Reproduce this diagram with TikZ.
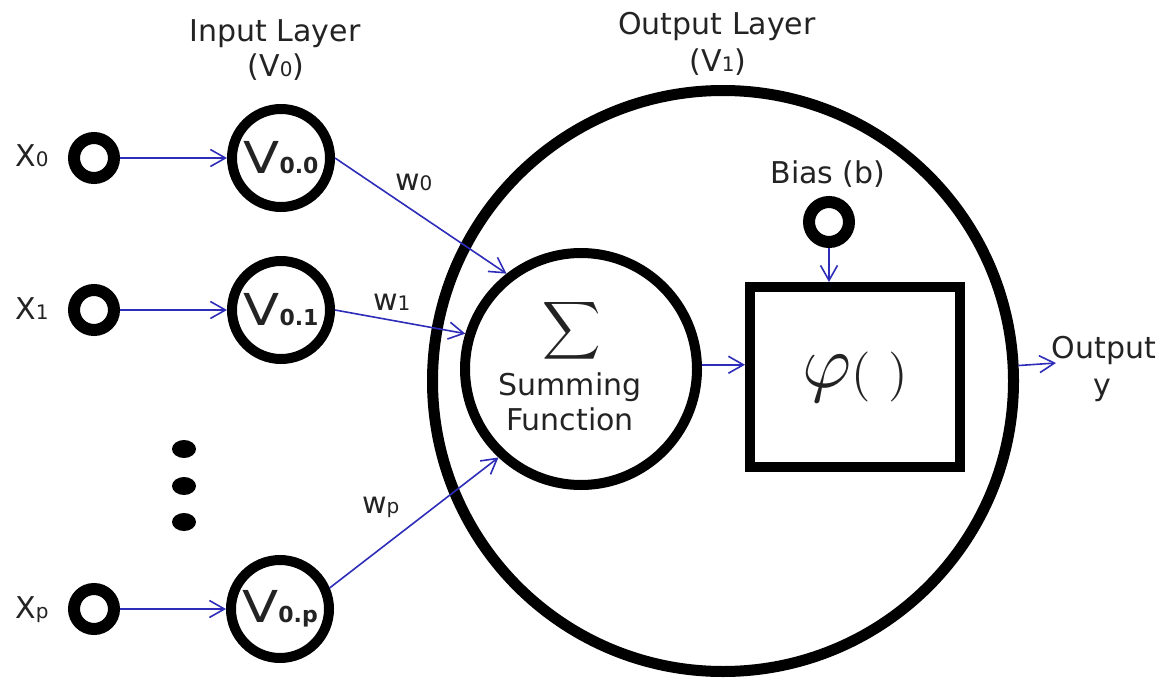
\documentclass[tikz,border=0pt]{standalone}
\usepackage{fontspec}
\setmainfont{DejaVu Sans}
\usepackage{graphicx}
\usetikzlibrary{arrows.meta,calc,shapes.geometric}
\definecolor{arrowblue}{RGB}{45,45,185}
\definecolor{txt}{RGB}{35,35,35}
\newcommand\subsc[1]{{\fontsize{20}{20}\selectfont #1}}
\newcommand\vlab[1]{\scalebox{1.2}[1]{\fontsize{44}{44}\selectfont V}{\fontsize{22}{22}\selectfont\bfseries #1}}
\begin{document}
\begin{tikzpicture}[x=1pt,y=-1pt,
  every node/.style={inner sep=0pt, text=txt, font=\fontsize{30}{36}\selectfont},
  inring/.style={circle, draw=black, line width=12pt, minimum size=40pt},
  vnode/.style={circle, draw=black, line width=10pt, minimum size=98pt},
  sumnode/.style={circle, draw=black, line width=10pt, minimum size=232pt},
  bignode/.style={circle, draw=black, line width=11pt, minimum size=581pt},
  actbox/.style={rectangle, draw=black, line width=10pt, minimum width=210pt, minimum height=180pt},
  dotst/.style={ellipse, fill=black, minimum width=24pt, minimum height=18pt},
  arr/.style={draw=arrowblue, line width=1.6pt, -{Straight Barb[length=15pt,width=17pt,line width=1.6pt]}},
  lab/.style={anchor=base}
]
\useasboundingbox (0,0) rectangle (1165,682);

% layer titles
\node[lab] (intitle) at (275,42) {Input Layer};
\node[lab] (insub) at (276,77) {(V\subsc{0})};
\node[lab] (outtitle) at (717,35) {Output Layer};
\node[lab] (outsub) at (718,72) {(V\subsc{1})};

% output layer big circle
\node[bignode] (big) at (723,381) {};

% inputs
\node[inring] (x0) at (94,158) {};
\node[inring] (x1) at (94,310) {};
\node[inring] (xp) at (94,609) {};
\node[lab, anchor=base west] (lx0) at (15,167) {X\subsc{0}};
\node[lab, anchor=base west] (lx1) at (15,319) {X\subsc{1}};
\node[lab, anchor=base west] (lxp) at (15,618) {X\subsc{p}};

\node[vnode] (v00) at (281,158) {\vlab{0.0}};
\node[vnode] (v01) at (281,310) {\vlab{0.1}};
\node[vnode] (v0p) at (280,609) {\vlab{0.p}};

% ellipsis dots
\node[dotst] (d1) at (184,449) {};
\node[dotst] (d2) at (184,486) {};
\node[dotst] (d3) at (184,522) {};

% summing function
\node[sumnode] (sig) at (581,369) {};
\node (sigsym) at (572,331) {\fontsize{10}{12}\selectfont\scalebox{4.05}{$\displaystyle\sum$}};
\node[lab] (sumlab1) at (570,395) {Summing};
\node[lab] (sumlab2) at (570,430) {Function};

% activation box
\node[actbox] (box) at (855,377) {\fontsize{10}{12}\selectfont\raisebox{-5pt}{\raisebox{2pt}{\scalebox{7.5}{$\varphi$}}\scalebox{5}{$(\hspace{3.6pt})$}}};

% bias
\node[inring] (bias) at (829,222) {};
\node[lab] (biaslab) at (828,183) {Bias (b)};

% output
\coordinate (yout) at (1056,363);
\node[lab] (outlab1) at (1104,358) {Output};
\node[lab] (outlab2) at (1102,395) {y};

% weights labels
\node[lab, anchor=base west] (w0) at (395,190) {w\subsc{0}};
\node[lab, anchor=base west] (w1) at (373,310) {w\subsc{1}};
\node[lab, anchor=base west] (wp) at (362,513) {w\subsc{p}};

% connectors
\draw[arr] (x0) -- (v00);
\draw[arr] (x1) -- (v01);
\draw[arr] (xp) -- (v0p);
\draw[arr] (v00.east) -- (sig.128);
\draw[arr] (v01.east) -- (sig.163);
\draw[arr] (v0p.23) -- (sig.227);
\draw[arr] (sig.2) -- (sig.2 -| box.west);
\draw[arr] (bias) -- (bias |- box.north);
\draw[arr] (big.3.5) -- (yout);
\end{tikzpicture}
\end{document}
